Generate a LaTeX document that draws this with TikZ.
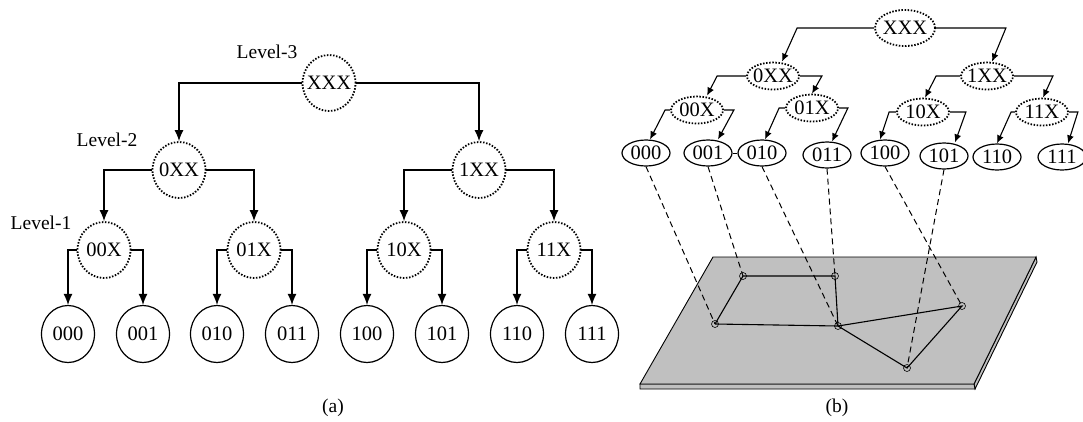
\documentclass[tikz,border=0pt]{standalone}
\usepackage{fontspec}
\setmainfont{Liberation Serif}
\usetikzlibrary{arrows.meta,shapes.geometric,calc}
\newcommand\zw[1]{\makebox[0pt]{#1}}
\definecolor{planegray}{RGB}{192,192,192}
\begin{document}
\begin{tikzpicture}[x=1pt,y=-1pt,
  every node/.style={font=\fontsize{19.5}{21}\selectfont},
  dotc/.style={ellipse,draw,line width=1.8pt,dash pattern=on 1.5pt off 1.6pt,inner sep=0pt,font=\fontsize{20.5}{22}\selectfont},
  solc/.style={ellipse,draw,line width=1.2pt,inner sep=0pt,font=\fontsize{20.5}{22}\selectfont},
  lnode/.style={minimum width=53pt,minimum height=56pt},
  lleaf/.style={minimum width=53pt,minimum height=57pt},
  rtop/.style={minimum width=60pt,minimum height=36pt},
  rnode/.style={minimum width=52pt,minimum height=27pt},
  rleaf/.style={minimum width=48pt,minimum height=26pt},
  arr/.style={line width=1.2pt,-{Latex[length=11pt,width=9pt]}},
  arrs/.style={line width=1.1pt,-{Latex[length=8pt,width=7pt]}},
  dsh/.style={line width=1pt,dash pattern=on 6pt off 4pt},
  pt/.style={circle,draw,line width=0.6pt,minimum size=7pt,inner sep=0pt},
  edge/.style={line width=1.1pt}]
\useasboundingbox (0,0) rectangle (1083,421);

% ---------- (a) ----------
\node[dotc,lnode] (XXX) at (329,83) {\zw{XXX}};
\node[dotc,lnode] (0XX) at (179,170) {\zw{0XX}};
\node[dotc,lnode] (1XX) at (479,170) {\zw{1XX}};
\node[dotc,lnode] (00X) at (104,250) {\zw{00X}};
\node[dotc,lnode] (01X) at (254,250) {\zw{01X}};
\node[dotc,lnode] (10X) at (404,250) {\zw{10X}};
\node[dotc,lnode] (11X) at (554,250) {\zw{11X}};
\node[solc,lleaf] (000) at (68,334) {\zw{000}};
\node[solc,lleaf] (001) at (143,334) {\zw{001}};
\node[solc,lleaf] (010) at (217,334) {\zw{010}};
\node[solc,lleaf] (011) at (292,334) {\zw{011}};
\node[solc,lleaf] (100) at (367,334) {\zw{100}};
\node[solc,lleaf] (101) at (442,334) {\zw{101}};
\node[solc,lleaf] (110) at (517,334) {\zw{110}};
\node[solc,lleaf] (111) at (592,334) {\zw{111}};

\node (L3) at (267,52) {Level-3};
\node (L2) at (107,140) {Level-2};
\node (L1) at (41,223) {Level-1};
\node (capa) at (333,408) {(a)};

\draw[arr] (XXX.west) -| (0XX.north);
\draw[arr] (XXX.east) -| (1XX.north);
\draw[arr] (0XX.west) -| (00X.north);
\draw[arr] (0XX.east) -| (01X.north);
\draw[arr] (1XX.west) -| (10X.north);
\draw[arr] (1XX.east) -| (11X.north);
\draw[arr] (00X.west) -| (000.north);
\draw[arr] (00X.east) -| (001.north);
\draw[arr] (01X.west) -| (010.north);
\draw[arr] (01X.east) -| (011.north);
\draw[arr] (10X.west) -| (100.north);
\draw[arr] (10X.east) -| (101.north);
\draw[arr] (11X.west) -| (110.north);
\draw[arr] (11X.east) -| (111.north);

% ---------- (b) plane ----------
\coordinate (A) at (713,257);
\coordinate (B) at (1036,257);
\coordinate (C) at (974,384);
\coordinate (D) at (640,384);
\draw[line width=0.9pt,fill=planegray] (C) -- (B) -- ($(B)+(1,5)$) -- ($(C)+(1,5)$) -- cycle;
\draw[line width=0.9pt,fill=planegray] (D) -- (C) -- ($(C)+(1,5)$) -- ($(D)+(0,5)$) -- cycle;
\draw[line width=0.9pt,fill=planegray] (A) -- (B) -- (C) -- (D) -- cycle;

\node[pt] (P1) at (715,324) {};
\node[pt] (P2) at (743,276) {};
\node[pt] (P3) at (835,276) {};
\node[pt] (P4) at (838,326) {};
\node[pt] (P5) at (962,306) {};
\node[pt] (P6) at (907,368) {};
\draw[edge] (P1.center) -- (P2.center) -- (P3.center) -- (P4.center) -- (P1.center);
\draw[edge] (P4.center) -- (P5.center) -- (P6.center) -- (P4.center);

% ---------- (b) tree ----------
\node[dotc,rtop] (rXXX) at (905,28) {\zw{XXX}};
\node[dotc,rnode] (r0XX) at (773,76) {\zw{0XX}};
\node[dotc,rnode] (r1XX) at (987,76) {\zw{1XX}};
\node[dotc,rnode] (r00X) at (697,110) {\zw{00X}};
\node[dotc,rnode] (r01X) at (812,108) {\zw{01X}};
\node[dotc,rnode] (r10X) at (923,112) {\zw{10X}};
\node[dotc,rnode] (r11X) at (1042,112) {\zw{11X}};
\node[solc,rleaf] (r000) at (646,153) {\zw{000}};
\node[solc,rleaf] (r001) at (708,153) {\zw{001}};
\node[solc,rleaf] (r010) at (762,153) {\zw{010}};
\node[solc,rleaf] (r011) at (827,155) {\zw{011}};
\node[solc,rleaf] (r100) at (885,153) {\zw{100}};
\node[solc,rleaf] (r101) at (944,156) {\zw{101}};
\node[solc,rleaf] (r110) at (997,157) {\zw{110}};
\node[solc,rleaf] (r111) at (1062,157) {\zw{111}};
\node (capb) at (837,408) {(b)};

\draw[arrs] (rXXX.west) -- ++(-77,0) -- ($(r0XX.north)+(9,0)$);
\draw[arrs] (rXXX.east) -- ++(70,0) -- ($(r1XX.north)+(5,0)$);
\draw[arrs] (r0XX.west) -- ++(-29,0) -- ($(r00X.north)+(10,0)$);
\draw[arrs] (r0XX.east) -- ++(22,0) -- (r01X.north);
\draw[arrs] (r1XX.west) -- ++(-24,0) -- ($(r10X.north)+(2,0)$);
\draw[arrs] (r1XX.east) -- ++(39,0) -- ($(r11X.north)+(1,0)$);
\draw[arrs] (r00X.west) -- ++(-5,0) -- ($(r000.north)+(4,0)$);
\draw[arrs] (r00X.east) -- ++(10,0) -- ($(r001.north)+(10,0)$);
\draw[arrs] (r01X.west) -- ++(-6,0) -- ($(r010.north)+(3,0)$);
\draw[arrs] (r01X.east) -- ++(9,0) -- ($(r011.north)+(5,0)$);
\draw[arrs] (r10X.west) -- ++(-7,0) -- ($(r100.north)+(-5,0)$);
\draw[arrs] (r10X.east) -- ++(16,0) -- ($(r101.north)+(11,0)$);
\draw[arrs] (r11X.west) -- ++(-4,0) -- (r110.north);
\draw[arrs] (r11X.east) -- ++(9,0) -- ($(r111.north)+(6,0)$);
\draw[line width=0.9pt] (r001.east) -- (r010.west);

\draw[dsh] (r000.south) -- (P1.center);
\draw[dsh] (r001.south) -- (P2.center);
\draw[dsh] (r010.south) -- (P4.center);
\draw[dsh] (r011.south) -- (P3.center);
\draw[dsh] (r100.south) -- (P5.center);
\draw[dsh] (r101.south) -- (P6.center);
\end{tikzpicture}
\end{document}
